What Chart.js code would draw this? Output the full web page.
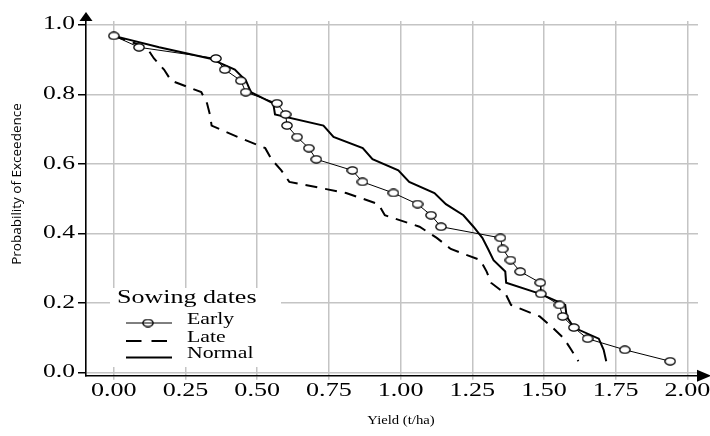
<!DOCTYPE html>
<html>
<head>
<meta charset="utf-8">
<script src="https://cdn.jsdelivr.net/npm/chart.js@4.4.1/dist/chart.umd.min.js"></script>
<style>
  html, body { margin: 0; padding: 0; background: #fff; }
  #wrap { width: 710px; height: 436px; }
</style>
</head>
<body>
<div id="wrap"><canvas id="exceedenceChart"></canvas></div>
<script>
// Probability of exceedence (plotting position) of each ranked yield
const exceedence = [0.968, 0.935, 0.903, 0.871, 0.839, 0.806, 0.774, 0.742, 0.710, 0.677,
                    0.645, 0.613, 0.581, 0.548, 0.516, 0.484, 0.452, 0.419, 0.387, 0.355,
                    0.323, 0.290, 0.258, 0.226, 0.194, 0.161, 0.129, 0.097, 0.065, 0.032];

// Yield (t/ha) per sowing date, ranked
const earlyYield  = [0.000, 0.088, 0.356, 0.387, 0.443, 0.460, 0.569, 0.599, 0.604, 0.639,
                     0.680, 0.706, 0.832, 0.867, 0.975, 1.059, 1.106, 1.141, 1.348, 1.356,
                     1.383, 1.417, 1.487, 1.489, 1.554, 1.565, 1.604, 1.652, 1.782, 1.940];
const lateYield   = [0.000, 0.114, 0.140, 0.175, 0.200, 0.305, 0.325, 0.335, 0.341, 0.432,
                     0.528, 0.550, 0.584, 0.612, 0.810, 0.923, 0.945, 1.066, 1.126, 1.175,
                     1.278, 1.300, 1.315, 1.366, 1.385, 1.485, 1.530, 1.570, 1.595, 1.620];
const normalYield = [0.000, 0.158, 0.334, 0.422, 0.461, 0.478, 0.556, 0.562, 0.731, 0.766,
                     0.868, 0.902, 0.992, 1.030, 1.118, 1.158, 1.219, 1.254, 1.285, 1.305,
                     1.324, 1.365, 1.368, 1.487, 1.574, 1.579, 1.604, 1.691, 1.708, 1.717];

const seriesNames = ['Early', 'Late', 'Normal'];
const yieldTicks = [0, 0.25, 0.5, 0.75, 1, 1.25, 1.5, 1.75, 2];
const probTicks = [0, 0.2, 0.4, 0.6, 0.8, 1];

const toPoints = ys => ys.map((x, i) => ({ x: x, y: exceedence[i] }));

// hollow oval marker for the Early series, drawn large and shown at 12x9
function ringImage(w, h, k) {
    const c = document.createElement('canvas');
    c.width = w * k; c.height = h * k;
    const g = c.getContext('2d');
    g.strokeStyle = '#000';
    g.fillStyle = '#fff';
    g.lineWidth = 1.3 * k;
    g.beginPath();
    g.ellipse(w * k / 2, h * k / 2, (w / 2 - 0.9) * k, (h / 2 - 0.9) * k, 0, 0, Math.PI * 2);
    g.fill();
    g.stroke();
    const img = new Image(w, h);
    img.src = c.toDataURL();
    return img;
}
const ring = ringImage(12, 9, 4);

const serif = '"Liberation Serif", "Times New Roman", serif';

// text drawn with a horizontal stretch (wide serif lettering)
function wideText(ctx, text, x, y, size, sx, align) {
    ctx.save();
    ctx.translate(x, y);
    ctx.scale(sx, 1);
    ctx.font = size + 'px ' + serif;
    ctx.textAlign = align;
    ctx.textBaseline = 'middle';
    ctx.fillStyle = '#000';
    ctx.fillText(text, 0, 0);
    ctx.restore();
}

// tick labels, axis titles, arrows and the legend box
const decorations = {
    id: 'decorations',
    afterDraw(chart) {
        const ctx = chart.ctx;
        const a = chart.chartArea;
        const xs = chart.scales.x;
        const ys = chart.scales.y;
        ctx.save();
        ctx.fillStyle = '#000';

        // arrow heads on both axes
        ctx.beginPath();
        ctx.moveTo(a.left, a.top - 9);
        ctx.lineTo(a.left - 6.5, a.top);
        ctx.lineTo(a.left + 6.5, a.top);
        ctx.closePath();
        ctx.fill();
        ctx.beginPath();
        ctx.moveTo(a.right + 13, a.bottom);
        ctx.lineTo(a.right - 1, a.bottom - 6);
        ctx.lineTo(a.right - 1, a.bottom + 6);
        ctx.closePath();
        ctx.fill();

        // tick labels
        xs.ticks.forEach(t => {
            wideText(ctx, t.value.toFixed(2), xs.getPixelForValue(t.value), a.bottom + 16, 18, 1.45, 'center');
        });
        ys.ticks.forEach(t => {
            wideText(ctx, t.value.toFixed(1), a.left - 11, ys.getPixelForValue(t.value), 18, 1.42, 'right');
        });

        // y title
        ctx.save();
        ctx.translate(17.5, 184);
        ctx.rotate(-Math.PI / 2);
        ctx.font = '13.5px "Open Sans", sans-serif';
        ctx.textAlign = 'center';
        ctx.textBaseline = 'middle';
        ctx.fillText('Probability of Exceedence', 0, 0);
        ctx.restore();

        // x title
        wideText(ctx, 'Yield (t/ha)', 401, 421, 13, 1.13, 'center');

        // legend
        ctx.fillStyle = '#fff';
        ctx.fillRect(110, 288, 171, 79);
        wideText(ctx, 'Sowing dates', 117, 298, 19, 1.37, 'left');

        const rows = [323, 341, 357.5];
        const labelY = [320, 337.5, 353.5];
        chart.data.datasets.forEach((ds, i) => {
            const dashed = ds.borderDash && ds.borderDash.length;
            ctx.save();
            ctx.strokeStyle = ds.borderColor;
            ctx.lineWidth = ds.borderWidth;
            ctx.setLineDash(dashed ? [15.5, 10] : []);
            ctx.beginPath();
            ctx.moveTo(126, rows[i]);
            ctx.lineTo(dashed ? 167 : 172, rows[i]);
            ctx.stroke();
            if (ds.pointStyle === ring) {
                ctx.drawImage(ring, 148 - ring.width / 2, rows[i] - ring.height / 2, ring.width, ring.height);
                ctx.beginPath();
                ctx.moveTo(143, rows[i]);
                ctx.lineTo(153, rows[i]);
                ctx.stroke();
            }
            ctx.restore();
            wideText(ctx, ds.label, 187, labelY[i], 17, 1.28, 'left');
        });
        ctx.restore();
    }
};

function buildChart() {
    const ctx = document.getElementById('exceedenceChart').getContext('2d');
    return new Chart(ctx, {
        type: 'scatter',
        data: {
            datasets: [{
                label: seriesNames[0],
                data: toPoints(earlyYield),
                showLine: true,
                borderColor: '#000',
                borderWidth: 1,
                pointStyle: ring,
                pointRadius: 5,
                pointHoverRadius: 5
            }, {
                label: seriesNames[1],
                data: toPoints(lateYield),
                showLine: true,
                borderColor: '#000',
                borderWidth: 2,
                borderDash: [12, 8],
                pointRadius: 0
            }, {
                label: seriesNames[2],
                data: toPoints(normalYield),
                showLine: true,
                borderColor: '#000',
                borderWidth: 2,
                pointRadius: 0
            }]
        },
        options: {
            responsive: true,
            maintainAspectRatio: false,
            animation: false,
            layout: { padding: { left: 0, right: 12, top: 21, bottom: 0 } },
            plugins: {
                legend: { display: false },
                tooltip: { enabled: false }
            },
            scales: {
                x: {
                    type: 'linear',
                    min: -0.097,
                    max: 2.037,
                    afterBuildTicks: s => { s.ticks = yieldTicks.map(v => ({ value: v })); },
                    afterFit: s => { s.height = 60.3; },
                    grid: { color: '#c4c4c4', lineWidth: 1.5, tickLength: 4, tickColor: '#c4c4c4' },
                    border: { color: '#000', width: 1.6 },
                    ticks: { display: false }
                },
                y: {
                    type: 'linear',
                    min: -0.0095,
                    max: 1.0107,
                    afterBuildTicks: s => { s.ticks = probTicks.map(v => ({ value: v })); },
                    afterFit: s => { s.width = 86; },
                    grid: { color: '#c4c4c4', lineWidth: 1.5, tickLength: 8, tickColor: '#000' },
                    border: { color: '#000', width: 1.6 },
                    ticks: { display: false }
                }
            }
        },
        plugins: [decorations]
    });
}

// wait for the marker image before drawing
ring.onload = buildChart;
</script>
</body>
</html>
